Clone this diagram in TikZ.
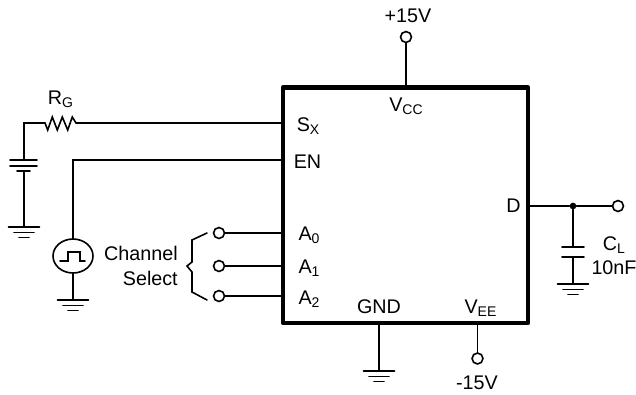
\documentclass[tikz,border=0pt]{standalone}
\usepackage{fontspec}
\setmainfont{Liberation Sans}
\usetikzlibrary{shapes.geometric}

\newcommand{\subs}[1]{\raisebox{-0.35ex}{\fontsize{10.5}{10.5}\selectfont #1}}

\tikzset{
  wire/.style={line width=1.2pt,line cap=round},
  term/.style={circle,draw,line width=1.2pt,inner sep=0pt,minimum size=8.2pt,fill=white},
  lab/.style={inner sep=0pt,anchor=base,font=\fontsize{14.8}{18.75}\selectfont},
  gnd/.pic={
    \draw[wire] (-15.5,0) -- (15.5,0);
    \draw[wire] (-10,5.5) -- (10,5.5);
    \draw[wire] (-5,10.5) -- (5,10.5);
  }
}

\begin{document}
\begin{tikzpicture}[x=0.75pt,y=-0.75pt]
\useasboundingbox (0,0) rectangle (636,394);

\node[draw,line width=3.5pt,line join=round,minimum width=183.75pt,minimum height=176.6pt,inner sep=0pt] (ic) at (405.5,205.2) {};

% pin labels
\node[lab] (sxlab) at (308,131) {S\subs{X}};
\node[lab] (enlab) at (307.5,168) {EN};
\node[lab] (a0lab) at (309,240) {A\subs{0}};
\node[lab] (a1lab) at (309,273) {A\subs{1}};
\node[lab] (a2lab) at (309,304) {A\subs{2}};
\node[lab] (vcclab) at (406,111) {V\subs{CC}};
\node[lab] (dlab) at (513.5,212) {D};
\node[lab] (gndlab) at (379,313) {GND};
\node[lab] (veelab) at (480.5,313) {V\subs{EE}};

% supplies
\node[lab] (vplus) at (408,22) {+15V};
\node[term] (tplus) at (406,37) {};
\draw[wire] (tplus) -- (ic.north -| tplus);
\node[term] (tminus) at (477.5,358.5) {};
\node[lab] (vminus) at (477,389) {-15V};
\draw[wire] (ic.south -| tminus) -- (tminus);
\coordinate (g1) at (379,371);
\draw[wire] (ic.south -| g1) -- (g1);
\pic at (g1) {gnd};

% input side
\coordinate (r1) at (45,123);
\coordinate (r2) at (76,123);
\coordinate (bat) at (24,123);
\coordinate (b1) at (24,160);
\coordinate (b2) at (24,171);
\coordinate (g2) at (24,227);
\node[lab] (rlab) at (60.5,104) {R\subs{G}};
\draw[wire] (r2) -- (ic.west |- r2);
\draw[wire,line join=miter] (b1) -- (bat) -- (r1) -- (47.7,130) -- (52.3,117) -- (57.3,130)
  -- (62.3,117) -- (67.7,130) -- (72.3,117) -- (r2);
\draw[wire] (10,160) -- (37,160);
\draw[wire] (10,166) -- (37,166);
\draw[wire] (17,171) -- (30,171);
\draw[wire] (b2) -- (g2);
\pic at (g2) {gnd};

\node[ellipse,draw,line width=1.2pt,minimum width=30pt,minimum height=25.5pt,inner sep=0pt] (src) at (73,256) {};
\coordinate (en) at (73,160);
\coordinate (g3) at (73,300);
\draw[wire] (src) -- (en) -- (ic.west |- en);
\draw[wire] (src) -- (g3);
\pic at (g3) {gnd};
\draw[wire] (60,261) -- (68,261) -- (68,252) -- (80,252) -- (80,261) -- (85,261);

% channel select
\node[lab,align=right,anchor=base east] (chan) at (178,285) {Channel\\Select};
\node[term] (t0) at (219,233) {};
\node[term] (t1) at (219,266) {};
\node[term] (t2) at (219,296) {};
\foreach \n in {0,1,2}
  \draw[wire] (t\n) -- (ic.west |- t\n);
\draw[wire] (207,233) -- (192,240) -- (192,262) -- (187,266) -- (192,272) -- (192,292) -- (207,300);

% output side
\node[term] (tout) at (618,206) {};
\node[circle,fill,inner sep=0pt,minimum size=5pt] (dot) at (573,206) {};
\draw[wire] (ic.east |- tout) -- (dot) -- (tout);
\coordinate (c1) at (573,247);
\coordinate (c2) at (573,257);
\coordinate (g4) at (573,284);
\draw[wire] (dot) -- (c1);
\draw[wire] (c2) -- (g4);
\draw[wire] (562,247) -- (584,247);
\draw[wire] (562,257) -- (584,257);
\pic at (g4) {gnd};
\node[lab] (clab) at (614,250) {C\subs{L}};
\node[lab] (cval) at (614,274) {10nF};
\end{tikzpicture}
\end{document}
